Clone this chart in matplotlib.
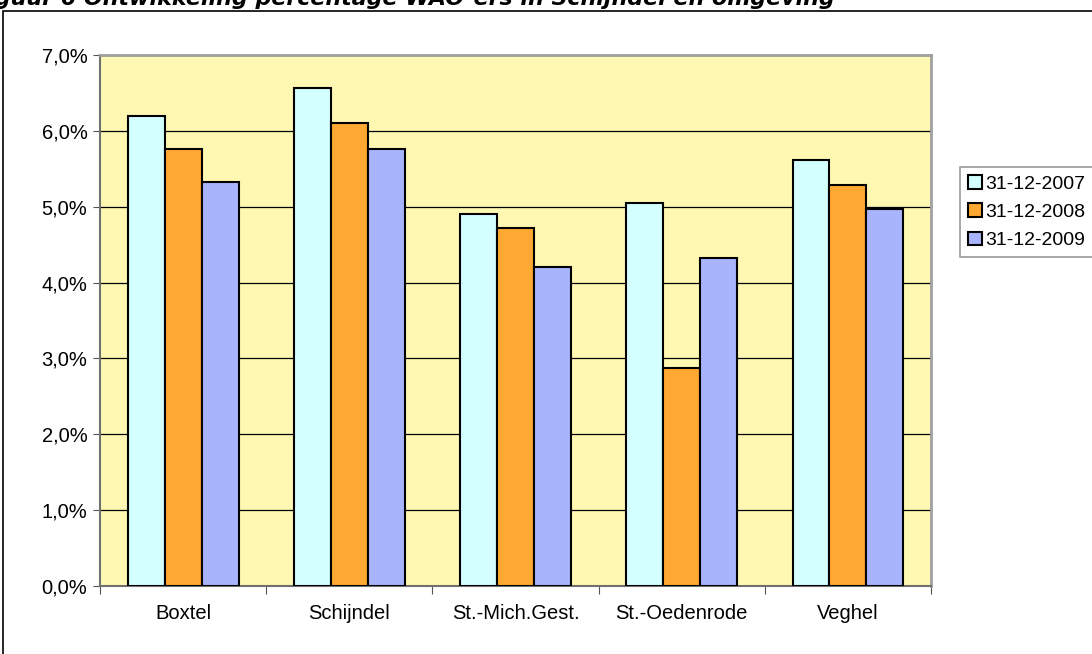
import matplotlib.pyplot as plt
import matplotlib.patches as mpatches
from matplotlib.ticker import FuncFormatter, FixedLocator
import numpy as np

plt.rcParams['font.family'] = ['Liberation Sans', 'DejaVu Sans']

# data (percentages)
gemeenten = ["Boxtel", "Schijndel", "St.-Mich.Gest.", "St.-Oedenrode", "Veghel"]
peildata = ["31-12-2007", "31-12-2008", "31-12-2009"]
pct_2007 = [6.20, 6.57, 4.91, 5.05, 5.62]
pct_2008 = [5.76, 6.10, 4.72, 2.87, 5.28]
pct_2009 = [5.32, 5.76, 4.21, 4.32, 4.97]
titel = "Figuur 6 Ontwikkeling percentage WAO-ers in Schijndel en omgeving"

kleuren = ["#D4FFFF", "#FFA933", "#A8B4FC"]

fig = plt.figure(figsize=(10.92, 6.54), dpi=100)
W, H = 1092, 654

# outer frame of the embedded chart (runs past right/bottom edge)
frame = mpatches.Rectangle((3 / W, -0.1), 1.2, 1 - 11 / H + 0.1,
                           transform=fig.transFigure, fill=False,
                           edgecolor="black", linewidth=1.2)
fig.patches.append(frame)

# title, its top half falls off the page like in the original
fig.text(835 / W, 1 - 5 / H, titel, fontsize=15.9, fontweight="bold",
         fontstyle="italic", family="DejaVu Sans", va="baseline", ha="right")

ax = fig.add_axes([100 / W, 1 - 586 / H, (931 - 100) / W, (586 - 55) / H])
ax.set_facecolor("#FFF8B2")

x = np.arange(len(gemeenten))
bw = 1 / 4.5
for i, (reeks, label) in enumerate(zip([pct_2007, pct_2008, pct_2009], peildata)):
    ax.bar(x + (i - 1) * bw, reeks, width=bw, color=kleuren[i],
           edgecolor="black", linewidth=1.5, label=label, zorder=3)

ax.set_xlim(-0.5, len(gemeenten) - 0.5)
ax.set_ylim(0, 7)
ax.set_yticks(np.arange(0, 8, 1))
ax.yaxis.set_major_formatter(FuncFormatter(lambda v, p: f"{v:.1f}%".replace(".", ",")))
ax.grid(axis="y", color="black", linewidth=0.9, zorder=1)
ax.set_axisbelow(True)

ax.xaxis.set_major_locator(FixedLocator(np.arange(-0.5, len(gemeenten), 1)))
ax.xaxis.set_major_formatter(FuncFormatter(lambda v, p: ""))
ax.xaxis.set_minor_locator(FixedLocator(x))
ax.set_xticklabels(gemeenten, minor=True)
ax.tick_params(axis="x", which="minor", length=0, pad=13, labelsize=14.5)
ax.tick_params(axis="x", which="major", length=6, direction="out", color="#555555")
ax.tick_params(axis="y", length=5, direction="out", labelsize=14.5, pad=4, color="#555555")

for side in ["top", "right"]:
    ax.spines[side].set_color("#A0A0A0")
    ax.spines[side].set_linewidth(2)
ax.spines["left"].set_color("#707070")
ax.spines["bottom"].set_color("#707070")
ax.spines["left"].set_linewidth(1.5)
ax.spines["bottom"].set_linewidth(1.5)

leg = fig.legend(loc="upper left", bbox_to_anchor=(960 / W, 1 - 167 / H),
                 fontsize=14, frameon=True, fancybox=False, handlelength=0.72,
                 handleheight=0.72, handletextpad=0.2, borderpad=0.4,
                 labelspacing=0.55, borderaxespad=0)
leg.get_frame().set_edgecolor("#808080")
leg.get_frame().set_linewidth(1.2)

fig.savefig("out.png", dpi=100)
